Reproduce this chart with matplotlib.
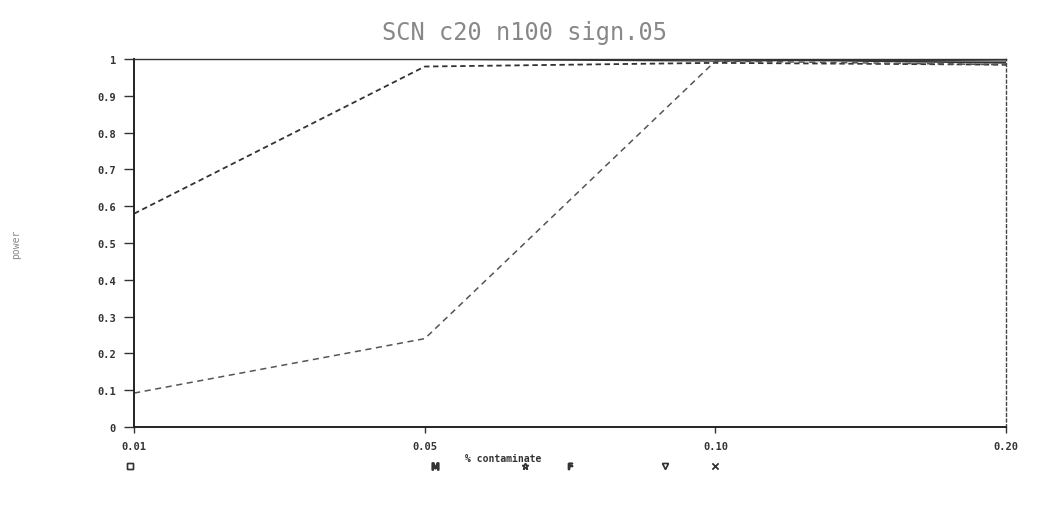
import matplotlib
matplotlib.use("Agg")
import matplotlib.pyplot as plt
from matplotlib.lines import Line2D
import numpy as np

categories = ["0.01", "0.05", "0.10", "0.20"]
s1 = [1.0, 1.0, 1.0, 1.0]
s2 = [0.58, 0.98, 0.99, 0.985]
s3 = [1.0, 1.0, 1.0, 0.99]
s4 = [1.0, 1.0, 1.0, 0.995]
s5 = [0.092, 0.24, 0.995, 0.985]
s6 = [1.0, 1.0, 0.995, 1.0]
yticks = [0, 0.1, 0.2, 0.3, 0.4, 0.5, 0.6, 0.7, 0.8, 0.9, 1]
ytick_labels = ["0", "0.1", "0.2", "0.3", "0.4", "0.5", "0.6", "0.7", "0.8", "0.9", "1"]
title = "SCN c20 n100 sign.05"
xlabel = "% contaminate"
ylabel = "power"

mono = "DejaVu Sans Mono"
fig = plt.figure(figsize=(10.48, 5.10), dpi=100)
ax = fig.add_axes([0.128, 0.161, 0.832, 0.721])
x = np.arange(len(categories))

ax.plot(x, s1, color="#222222", lw=1.4, ls="-")
ax.plot(x, s3, color="#333333", lw=1.2, ls="-")
ax.plot(x, s4, color="#444444", lw=1.0, ls="-")
ax.plot(x, s6, color="#333333", lw=1.0, ls="-")
ax.plot(x, s2, color="#333333", lw=1.3, ls=(0, (3, 2)))
ax.plot(x, s5, color="#555555", lw=1.1, ls=(0, (4, 3)))

ax.set_xlim(0, len(categories) - 1)
ax.set_ylim(0, 1)
ax.set_xticks(x)
ax.set_xticklabels(categories, fontfamily=mono, fontsize=7.5, fontweight="bold", color="#333333")
ax.set_yticks(yticks)
ax.set_yticklabels(ytick_labels, fontfamily=mono, fontsize=7.5, fontweight="bold", color="#333333")
ax.tick_params(axis="y", direction="out", length=7, width=1, pad=6, colors="#333333")
ax.tick_params(axis="x", direction="out", length=4, width=1, pad=6, colors="#333333")
for side in ["left", "bottom"]:
    ax.spines[side].set_linewidth(1.4)
    ax.spines[side].set_color("#222222")
ax.spines["top"].set_linewidth(1.0)
ax.spines["top"].set_color("#333333")
ax.spines["right"].set_linestyle((0, (2, 2)))
ax.spines["right"].set_linewidth(1.0)
ax.spines["right"].set_color("#444444")

fig.text(0.5, 0.935, title, ha="center", va="center", fontfamily=mono, fontsize=17,
         color="#888888", fontweight="light")
fig.text(0.48, 0.1, xlabel, ha="center", va="center", fontfamily=mono, fontsize=7, fontweight="bold", color="#333333")
fig.text(0.015, 0.52, ylabel, ha="center", va="center", rotation=90, fontfamily=mono, fontsize=7, color="#888888")

markers = ["s", "$\\mathsf{M}$", "*", "$\\mathsf{F}$", "v", "x"]
legend_x = [0.124, 0.415, 0.501, 0.544, 0.635, 0.682]
for m, lx in zip(markers, legend_x):
    h = Line2D([], [], ls="none", marker=m, markersize=5, markerfacecolor="none",
               markeredgecolor="#333333", color="#333333")
    leg = fig.legend([h], [""], loc="center", bbox_to_anchor=(lx, 0.082), frameon=False,
                     handlelength=1, handletextpad=0, borderpad=0)
    fig.add_artist(leg)

fig.savefig("out.png", dpi=100)
